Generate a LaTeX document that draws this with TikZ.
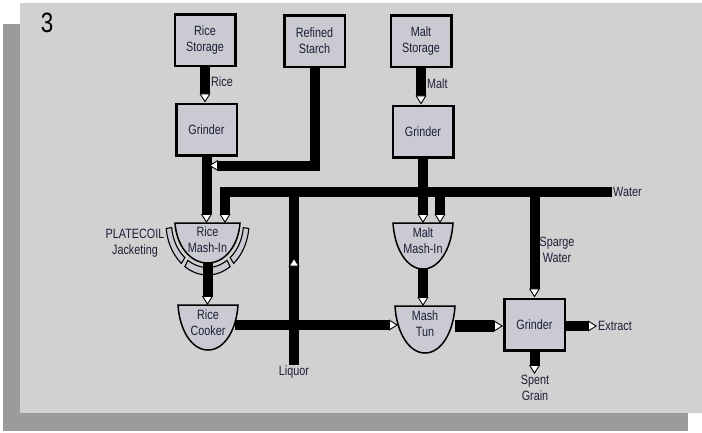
\documentclass[tikz,border=0pt]{standalone}
\usepackage{fontspec}
\setmainfont[FakeStretch=0.8]{Liberation Sans}
\usetikzlibrary{arrows.meta,calc,decorations.markings}
\definecolor{panel}{RGB}{209,209,209}
\definecolor{shadowc}{RGB}{155,155,155}
\definecolor{boxfill}{RGB}{201,202,210}
\definecolor{textc}{RGB}{30,30,55}
\newcommand{\drawvessel}[5]{% name, cx, top, hw, h
  \filldraw[vesselsty] (#2-#4,#3) -- (#2+#4,#3)
    .. controls (#2+#4-1.5,#3+0.55*#5) and (#2+0.55*#4,#3+#5) .. (#2,#3+#5)
    .. controls (#2-0.55*#4,#3+#5) and (#2-#4+1.5,#3+0.55*#5) .. (#2-#4,#3) -- cycle;
  \node[inner sep=0pt, outer sep=0pt, minimum width={2*#4pt}, minimum height={#5pt}, anchor=north] (#1) at (#2,#3) {};
}
\newcommand{\bandseg}[2]{%
  \filldraw[bandsty] plot[variable=\t, domain=#1:#2, samples=24] ({207.5+41.5*cos(\t)},{223+52*sin(\t)})
    -- plot[variable=\t, domain=#2:#1, samples=24] ({207.5+36*cos(\t)},{223+44.5*sin(\t)}) -- cycle;}
\begin{document}
\begin{tikzpicture}[x=1pt,y=-1pt,
  every node/.style={font=\fontsize{13.5}{16}\selectfont, text=textc},
  box/.style={draw=black, line width=2.5pt, fill=boxfill, minimum width=60.5pt, minimum height=51.5pt, align=center, inner sep=0pt},
  vesselsty/.style={draw=black, line width=1.5pt, fill=boxfill},
  bandsty/.style={draw=black, line width=1.1pt, fill=boxfill},
  pipe/.style={line width=10pt, draw=black, line join=miter},
  tiphead/.tip={Triangle[width=11pt,length=9pt,fill=white,line width=0.9pt]},
  tip/.style={-tiphead},
  lbl/.style={inner sep=1pt, align=center},
  vtext/.style={inner sep=1pt, align=center, anchor=north}
]
\useasboundingbox (0,0) rectangle (702,432);
% panel and shadow
\fill[shadowc] (3,24) rectangle (688,431);
\fill[panel] (20,3) rectangle (702,413);
\node[font=\fontsize{28}{30}\selectfont, text=black, inner sep=0pt] (num) at (47,23) {3};

% boxes
\node[box] (ricest) at (205,40) {Rice\\Storage};
\node[box] (starch) at (314.5,41) {Refined\\Starch};
\node[box] (maltst) at (421,41) {Malt\\Storage};
\node[box] (ricegr) at (206.5,129.5) {Grinder};
\node[box] (maltgr) at (423,131.5) {Grinder};
\node[box] (grinder) at (534.5,324.5) {Grinder};

% jacketing
\bandseg{174}{129}
\bandseg{123}{57}
\bandseg{51}{6}

% vessels
\drawvessel{rmash}{207.5}{223}{32.5}{40}
\drawvessel{rcook}{208}{305}{30}{45}
\drawvessel{mmash}{423}{223}{30}{46}
\drawvessel{mtun}{425}{306}{30}{47}
\node[vtext] (rmash-t) at (207.5,226) {Rice\\Mash-In};
\node[vtext] (rcook-t) at (208,308.5) {Rice\\Cooker};
\node[vtext] (mmash-t) at (423,226.5) {Malt\\Mash-In};
\node[vtext] (mtun-t) at (425,309.5) {Mash\\Tun};

% labels
\node[lbl, anchor=west] (ricelbl) at (210,82) {Rice};
\node[lbl, anchor=west] (maltlbl) at (426,84) {Malt};
\node[lbl, anchor=west] (waterlbl) at (612,192) {Water};
\node[lbl] (liq) at (294,372) {Liquor};
\node[lbl] (platecoil) at (135,243) {PLATECOIL\\Jacketing};
\node[lbl] (sparge) at (557,250) {Sparge\\Water};
\node[lbl, anchor=west] (extract) at (597,326) {Extract};
\node[lbl, anchor=north] (spent) at (535,374) {Spent\\Grain};

\coordinate (rw) at ($(rmash.north)+(17.5,0)$);
\coordinate (mw) at ($(mmash.north)+(17,0)$);
\coordinate (sj) at ($(ricegr.south)+(2.5,9)$);
\coordinate (ck) at ($(rcook.north east)+(-3,20)$);
\coordinate (tk) at ($(mtun.north west)+(3,19)$);
\coordinate (tg) at ($(grinder.west)+(0,1.5)$);

% pipes
\draw[pipe, tip] (ricest.south) -- (ricest.south |- ricegr.north);
\draw[pipe, tip] (maltst.south) -- (maltst.south |- maltgr.north);
\draw[pipe, tip] (ricegr.south) -- (ricegr.south |- rmash.north);
\draw[pipe, tip] (starch.south) |- (sj);
\draw[pipe, tip] (waterlbl.west) -| (rw);
\draw[pipe, postaction={decorate},
  decoration={markings, mark=at position 0.62 with {\arrow{tiphead}}}]
  (liq.north) -- (liq.north |- waterlbl.west);
\draw[pipe, tip] (maltgr.south) -- (maltgr.south |- mmash.north);
\draw[pipe, tip] (mw |- waterlbl.west) -- (mw);
\draw[pipe, tip] (grinder.north |- waterlbl.west) -- (grinder.north);
\draw[pipe, tip] (rmash.south) -- (rmash.south |- rcook.north);
\draw[pipe, tip] (mmash.south) -- (mmash.south |- mtun.north);
\draw[pipe, tip] (ck) -- (tk);
\draw[pipe, tip, line width=12pt] (tg -| mtun.east) -- (tg);
\draw[pipe, tip] (extract.west -| grinder.east) -- (extract.west);
\draw[pipe, tip] (grinder.south) -- (grinder.south |- spent.north);
\end{tikzpicture}
\end{document}
